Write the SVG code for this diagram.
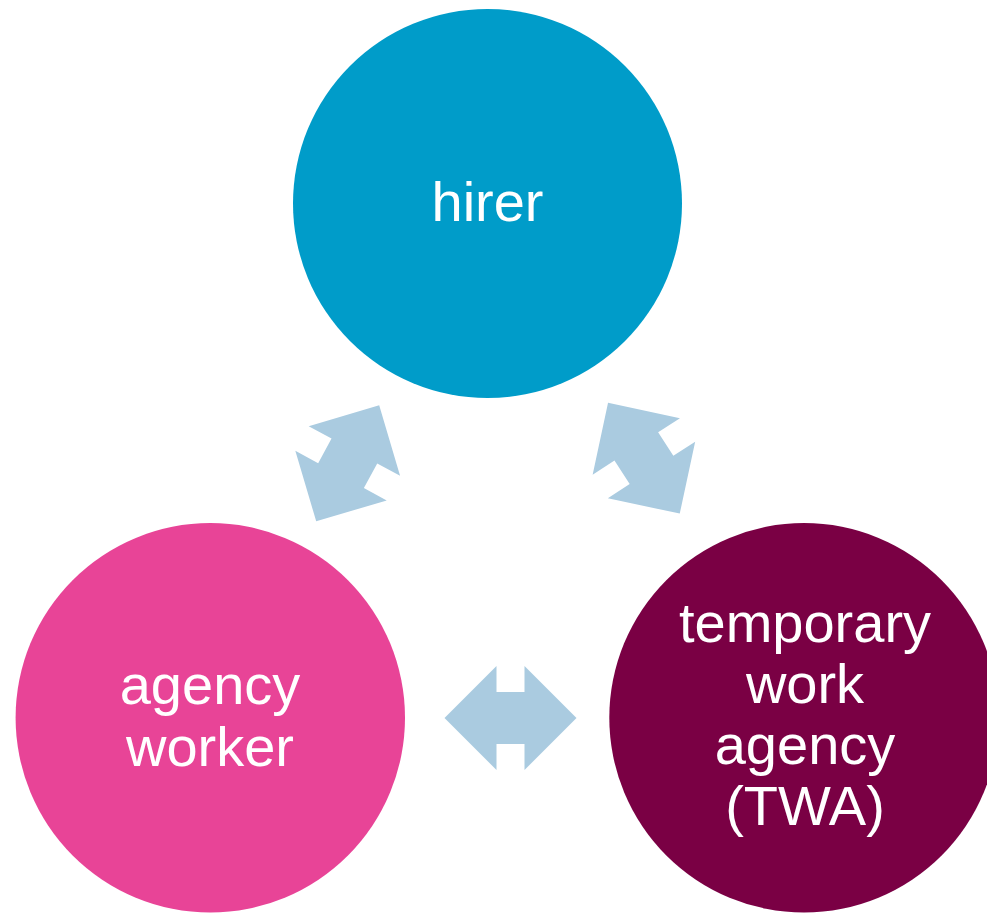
<svg xmlns="http://www.w3.org/2000/svg" width="987" height="913" viewBox="0 0 987 913">
<style>
.lbl{font-family:"Liberation Sans",Arial,sans-serif;font-size:56px;fill:#ffffff;text-anchor:middle}
.arr{fill:#AACBE0}
</style>
<defs>
<polygon id="dbl" points="-66,0 -14,-52 -14,-26 14,-26 14,-52 66,0 14,52 14,26 -14,26 -14,52"/>
</defs>
<rect width="987" height="913" fill="#ffffff"/>
<g id="connectors">
<use href="#dbl" class="arr" transform="translate(347.7,463.3) rotate(-61.5)"/>
<use href="#dbl" class="arr" transform="translate(643.9,458.2) rotate(57.1)"/>
<use href="#dbl" class="arr" transform="translate(510.5,718)"/>
</g>
<g id="hirer">
<circle cx="487.5" cy="203.5" r="194.5" fill="#009CC9"/>
<text class="lbl" x="487.5" y="221">hirer</text>
</g>
<g id="agency-worker">
<circle cx="210.3" cy="717.8" r="194.7" fill="#E84497"/>
<text class="lbl" x="210" y="704">agency</text>
<text class="lbl" x="210" y="766">worker</text>
</g>
<g id="twa">
<circle cx="804" cy="717.8" r="194.7" fill="#7A0044"/>
<text class="lbl" x="805" y="642">temporary</text>
<text class="lbl" x="805" y="703">work</text>
<text class="lbl" x="805" y="764">agency</text>
<text class="lbl" x="805" y="825">(TWA)</text>
</g>
</svg>
